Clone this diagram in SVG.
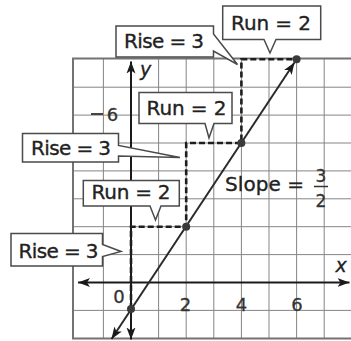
<svg xmlns="http://www.w3.org/2000/svg" width="351" height="341" viewBox="0 0 351 341">
<style>
.grid{stroke:#858585;stroke-width:1;fill:none}
.border{stroke:#737373;stroke-width:2;fill:none}
.axis{stroke:#1a1a1a;stroke-width:2;fill:none}
.main{stroke:#2a2a2a;stroke-width:2;fill:none}
.dash{stroke:#1e1e1e;stroke-width:2.6;stroke-dasharray:6 3;fill:none}
.box{fill:#fff;stroke:#4a4a4a;stroke-width:1.5;stroke-linejoin:miter}
.lbl{font-family:"DejaVu Sans",sans-serif;font-size:20px;fill:#222;stroke:#222;stroke-width:0.35}
.num{font-family:"DejaVu Sans",sans-serif;font-size:18px;fill:#333;stroke:#333;stroke-width:0.3;text-anchor:middle}
.var{font-family:"DejaVu Sans",sans-serif;font-size:19px;font-style:italic;fill:#222;stroke:#222;stroke-width:0.3}
.dot{fill:#3a3a3a}
</style>
<defs>
<marker id="arr" markerUnits="userSpaceOnUse" markerWidth="13" markerHeight="10" viewBox="0 0 13 10" refX="12" refY="5" orient="auto-start-reverse">
<path d="M0,0.5 L12,5 L0,9.5 L3,5 Z" fill="#1a1a1a"/>
</marker>
</defs>
<rect width="351" height="341" fill="#fff"/>
<g id="grid">
<path class="grid" d="M103.4,58.5V338.5M158.6,58.5V338.5M186.2,58.5V338.5M213.8,58.5V338.5M241.4,58.5V338.5M269,58.5V338.5M296.6,58.5V338.5M324.2,58.5V338.5"/>
<path class="grid" d="M73,87.2H351M73,115.1H351M73,143H351M73,170.9H351M73,198.8H351M73,226.7H351M73,254.6H351M73,310.4H351"/>
<path class="border" d="M351,58.5H73V338.5H351"/>
</g>
<g id="connectors">
<line class="axis" x1="78" y1="282.5" x2="349.5" y2="282.5" marker-start="url(#arr)" marker-end="url(#arr)"/>
<line class="axis" x1="131" y1="339.5" x2="131" y2="61.5" marker-start="url(#arr)" marker-end="url(#arr)"/>
<path class="dash" d="M131,309V226.7H186.2V143H241.4V59.3H296.6"/>
<line class="main" x1="111.5" y1="339" x2="294.5" y2="62.5" marker-start="url(#arr)" marker-end="url(#arr)"/>
<circle class="dot" cx="131" cy="309" r="4"/>
<circle class="dot" cx="186.2" cy="226.7" r="4"/>
<circle class="dot" cx="241.4" cy="143" r="4"/>
<circle class="dot" cx="296.6" cy="59.3" r="4"/>
</g>
<g id="axis-labels">
<text class="var" x="140" y="76">y</text>
<text class="var" x="335.5" y="271.5">x</text>
<text class="num" x="119" y="303">0</text>
<text class="num" x="185.5" y="310.5">2</text>
<text class="num" x="241.5" y="310.5">4</text>
<text class="num" x="297" y="310.5">6</text>
<line x1="91" y1="114" x2="103" y2="114" stroke="#333" stroke-width="1.8"/>
<text class="num" x="112.5" y="121">6</text>
</g>
<g id="slope">
<text class="lbl" x="225" y="190.5" textLength="79">Slope =</text>
<text class="num" x="321" y="181.5" style="font-size:17px">3</text>
<line x1="314" y1="186.5" x2="328" y2="186.5" stroke="#333" stroke-width="1.5"/>
<text class="num" x="321" y="206.5" style="font-size:17px">2</text>
</g>
<g id="run-top">
<path class="box" d="M222.7,6H320.7V39.5H276L270,53L264,39.5H222.7Z"/>
<text class="lbl" x="231" y="30" textLength="80">Run = 2</text>
</g>
<g id="rise-top">
<path class="box" d="M116,26H213.5V34L237.5,64.5L213.5,51V57H116Z"/>
<text class="lbl" x="124" y="48" textLength="80">Rise = 3</text>
</g>
<g id="run-mid">
<path class="box" d="M139,92.5H232V123.5H214L209,138L205,123.5H139Z"/>
<text class="lbl" x="146.5" y="114.5" textLength="80">Run = 2</text>
</g>
<g id="rise-mid">
<path class="box" d="M22.5,133.5H118.5V145.5L180,157.5L118.5,156V162H22.5Z"/>
<text class="lbl" x="31" y="154.5" textLength="80">Rise = 3</text>
</g>
<g id="run-low">
<path class="box" d="M83.3,180.5H179.3V206H161L155.5,220L150,206H83.3Z"/>
<text class="lbl" x="91.5" y="198.5" textLength="79">Run = 2</text>
</g>
<g id="rise-low">
<path class="box" d="M11,233.5H102.5V244.5L121,251.5L102.5,256.5V266H11Z"/>
<text class="lbl" x="18.5" y="258" textLength="80">Rise = 3</text>
</g>
</svg>
